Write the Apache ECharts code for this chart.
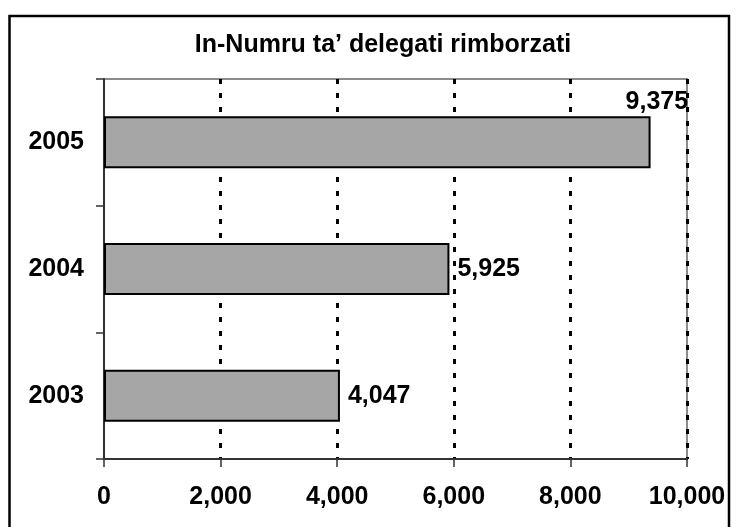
<!DOCTYPE html>
<html>
<head>
<meta charset="utf-8">
<style>html,body{margin:0;padding:0;background:#fff}#c{width:736px;height:527px}</style>
<script src="https://cdn.jsdelivr.net/npm/echarts@6/dist/echarts.min.js"></script>
</head>
<body>
<div id="c"></div>
<script>
const titleText = "In-Numru ta\u2019 delegati rimborzati";
const categories = ["2003", "2004", "2005"];
const values = [4047, 5925, 9375];
const xTicks = [0, 2000, 4000, 6000, 8000, 10000];

const chart = echarts.init(document.getElementById('c'), null, {renderer: 'canvas'});
const fontFamily = '"Liberation Sans", Arial, sans-serif';
const fmt = v => v.toLocaleString('en-US');

chart.setOption({
  animation: false,
  backgroundColor: '#ffffff',
  title: {
    text: titleText,
    left: 378, top: 28, textAlign: 'center',
    textStyle: {fontFamily, fontWeight: 'bold', fontSize: 25, color: '#000'}
  },
  graphic: [{
    type: 'rect', silent: true, z: 100,
    shape: {x: 9.5, y: 16, width: 719.5, height: 530},
    style: {fill: 'none', stroke: '#000', lineWidth: 2.5}
  }],
  grid: {
    left: 104, right: 49, top: 79, bottom: 68,
    show: true, borderColor: '#8c8c8c', borderWidth: 2
  },
  xAxis: {
    type: 'value',
    min: xTicks[0], max: xTicks[xTicks.length - 1], interval: 2000,
    axisLine: {show: true, onZero: false, lineStyle: {color: '#333', width: 2}},
    axisTick: {show: true, length: 8, lineStyle: {color: '#333', width: 1.5}},
    axisLabel: {
      margin: 26, fontFamily, fontWeight: 'bold', fontSize: 25, color: '#000',
      formatter: v => fmt(v)
    },
    splitLine: {show: true, showMinLine: false, lineStyle: {color: '#000', width: 3, type: [5, 9]}}
  },
  yAxis: {
    type: 'category',
    data: categories,
    axisLine: {show: true, lineStyle: {color: '#333', width: 2}},
    axisTick: {show: true, length: 8, alignWithLabel: false, lineStyle: {color: '#333', width: 1.5}},
    axisLabel: {margin: 20, fontFamily, fontWeight: 'bold', fontSize: 25, color: '#000'},
    splitLine: {show: false}
  },
  series: [{
    type: 'bar',
    data: values.map((v, i) => {
      const item = {value: v};
      if (i === values.length - 1) {
        item.label = {position: 'right', distance: 8, offset: [-33, -40]};
      }
      return item;
    }),
    barWidth: 52,
    itemStyle: {color: '#a6a6a6', borderColor: '#000', borderWidth: 2},
    label: {
      show: true, position: 'right', distance: 8,
      fontFamily, fontWeight: 'bold', fontSize: 25, color: '#000',
      formatter: p => fmt(p.value)
    },
    z: 3
  }]
});
</script>
</body>
</html>
